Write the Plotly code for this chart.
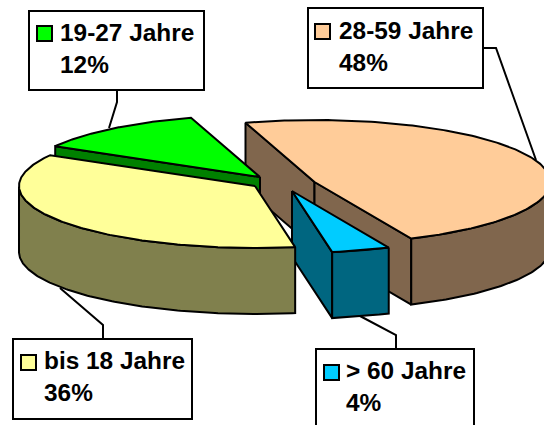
import numpy as np
import plotly.graph_objects as go

categories = ["28-59 Jahre", "> 60 Jahre", "bis 18 Jahre", "19-27 Jahre"]
shares = [48, 4, 36, 12]
percent_labels = ["48%", "4%", "36%", "12%"]

top_colors = ["#FFCC99", "#00CCFF", "#FFFF99", "#00FF00"]
wall_colors = ["#80664D", "#006680", "#80804D", "#008000"]

# style / layout
W, H = 544, 425
RX, RY, DEPTH = 236, 62, 66
START = 107.0
apexes = [(314.5, 182), (292, 191), (255, 186), (260, 177)]
draw_order = [0, 3, 1, 2]
boxes = [(308, 8, 483, 88), (316, 349, 474, 440), (13, 339, 192, 419), (29, 11, 204, 90)]
text_pos = [(339, 38, 70), (346, 378, 410), (44, 368, 400), (60, 40, 72)]
key_pos = [(315, 24), (324, 365), (21, 355), (37, 26)]
leaders = [
    [(483, 48), (496, 48), (536, 160)],
    [(396, 349), (396, 335), (360, 316)],
    [(103, 339), (103, 325), (60, 288)],
    [(117, 90), (117, 102), (109, 128)],
]
LW = 2
FS = 24.4

fig = go.Figure()


def poly(xs, ys, color):
    fig.add_trace(go.Scatter(
        x=list(xs) + [xs[0]], y=list(ys) + [ys[0]], mode="lines", fill="toself",
        fillcolor=color, line=dict(color="black", width=LW),
        hoverinfo="skip", showlegend=False))


# angular extents derived from the shares
total = sum(shares)
edges = [START]
for s in shares:
    edges.append(edges[-1] - 360.0 * s / total)


def pt(cx, cy, deg):
    t = np.radians(deg)
    return cx + RX * np.cos(t), cy - RY * np.sin(t)


for i in draw_order:
    cx, cy = apexes[i]
    a0, a1 = edges[i], edges[i + 1]
    # radial faces
    for deg, vis in ((a0, np.cos(np.radians(a0)) < 0), (a1, np.cos(np.radians(a1)) > 0)):
        if vis:
            px, py = pt(cx, cy, deg)
            poly([cx, px, px, cx], [cy, py, py + DEPTH, cy + DEPTH], wall_colors[i])
    # outer wall: front part of the rim
    ang = np.linspace(a0, a1, 180)
    front = ang[np.sin(np.radians(ang)) < 0]
    if len(front) > 1:
        ax, ay = pt(cx, cy, front)
        poly(np.r_[ax, ax[::-1]], np.r_[ay, ay[::-1] + DEPTH], wall_colors[i])
    # top surface
    ax, ay = pt(cx, cy, ang)
    poly(np.r_[cx, ax], np.r_[cy, ay], top_colors[i])

shapes = []
annotations = []
for i in range(len(categories)):
    pts = leaders[i]
    path = "M " + " L ".join(f"{x},{y}" for x, y in pts)
    shapes.append(dict(type="path", path=path, line=dict(color="black", width=LW)))
    x0, y0, x1, y1 = boxes[i]
    shapes.append(dict(type="rect", x0=x0, y0=y0, x1=x1, y1=y1, fillcolor="white",
                       line=dict(color="black", width=LW)))
    kx, ky = key_pos[i]
    shapes.append(dict(type="rect", x0=kx, y0=ky, x1=kx + 15, y1=ky + 15,
                       fillcolor=top_colors[i], line=dict(color="black", width=LW)))
    tx, b1, b2 = text_pos[i]
    for txt, b in ((categories[i], b1), (percent_labels[i], b2)):
        annotations.append(dict(
            x=tx, y=b - 8, text=f"<b>{txt.replace('>', '&gt;')}</b>", showarrow=False,
            xanchor="left", yanchor="middle", borderpad=0, xshift=-1,
            font=dict(family="Liberation Sans", size=FS, color="black")))

fig.update_layout(
    width=W, height=H, margin=dict(l=0, r=0, t=0, b=0),
    paper_bgcolor="white", plot_bgcolor="white", showlegend=False,
    xaxis=dict(range=[0, W], visible=False, fixedrange=True),
    yaxis=dict(range=[H, 0], visible=False, fixedrange=True),
    shapes=shapes, annotations=annotations)

fig.write_html("out.html", config=dict(displayModeBar=False),
               post_script="document.body.style.margin='0';document.body.style.overflow='hidden';")
